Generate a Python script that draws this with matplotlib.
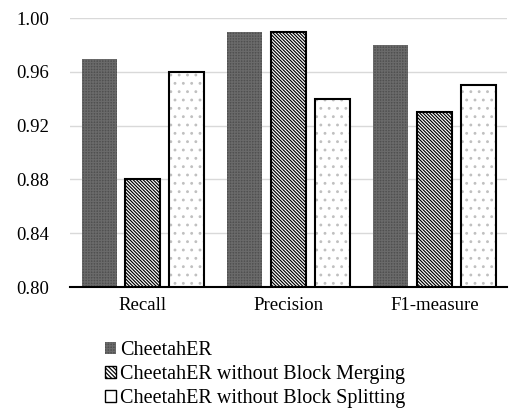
import matplotlib
matplotlib.use("Agg")
import matplotlib.pyplot as plt
import numpy as np
from matplotlib.patches import Patch

categories = ["Recall", "Precision", "F1-measure"]
series_names = ["CheetahER", "CheetahER without Block Merging", "CheetahER without Block Splitting"]
cheetah = [0.97, 0.99, 0.98]
no_merge = [0.88, 0.99, 0.93]
no_split = [0.96, 0.94, 0.95]
yticks = [0.80, 0.84, 0.88, 0.92, 0.96, 1.00]

plt.rcParams['font.family'] = ['Liberation Serif', 'DejaVu Serif']
plt.rcParams['hatch.linewidth'] = 0.85

fig = plt.figure(figsize=(5.10, 4.13), dpi=100)
ax = fig.add_axes([0.137, 0.305, 0.858, 0.651])

x = np.arange(len(categories))
w = 0.24
off = 0.30

dark_hatch = '++++++'
stripe_hatch = '\\' * 10
dot_hatch = '..'

ax.bar(x - off, cheetah, w, color='#505050', edgecolor='#6a6a6a', linewidth=0,
       hatch=dark_hatch, zorder=3)
ax.bar(x, no_merge, w, color='white', edgecolor='black', linewidth=0,
       hatch=stripe_hatch, zorder=3)
ax.bar(x, no_merge, w, fill=False, edgecolor='black', linewidth=1.5, zorder=4)
ax.bar(x + off, no_split, w, color='white', edgecolor='#c0c0c0', linewidth=0,
       hatch=dot_hatch, zorder=3)
ax.bar(x + off, no_split, w, fill=False, edgecolor='black', linewidth=1.5, zorder=4)

ax.set_ylim(0.80, 1.00)
ax.set_xlim(-0.5, 2.5)
ax.set_yticks(yticks)
ax.set_yticklabels([f"{v:.2f}" for v in yticks], fontsize=13.5)
ax.set_xticks(x)
ax.set_xticklabels(categories, fontsize=13.5)
ax.tick_params(axis='y', length=0, pad=15)
ax.tick_params(axis='x', length=0, pad=7)
ax.grid(axis='y', color='#d9d9d9', linewidth=1, zorder=0)
for s in ['top', 'right', 'left']:
    ax.spines[s].set_visible(False)
ax.spines['bottom'].set_linewidth(1.5)
ax.spines['bottom'].set_zorder(5)

h1 = Patch(facecolor='#505050', edgecolor='#6a6a6a', linewidth=0, hatch=dark_hatch)
h2 = Patch(facecolor='white', edgecolor='black', linewidth=1, hatch='\\' * 8)
h3 = Patch(facecolor='white', edgecolor='black', linewidth=1)
fig.legend([h1, h2, h3], series_names, loc='upper left',
           bbox_to_anchor=(0.205, 0.175), frameon=False, fontsize=14.5,
           handlelength=0.55, handleheight=0.55, handletextpad=0.2,
           labelspacing=0.25, borderaxespad=0, borderpad=0)

fig.savefig("out.png", dpi=100)
